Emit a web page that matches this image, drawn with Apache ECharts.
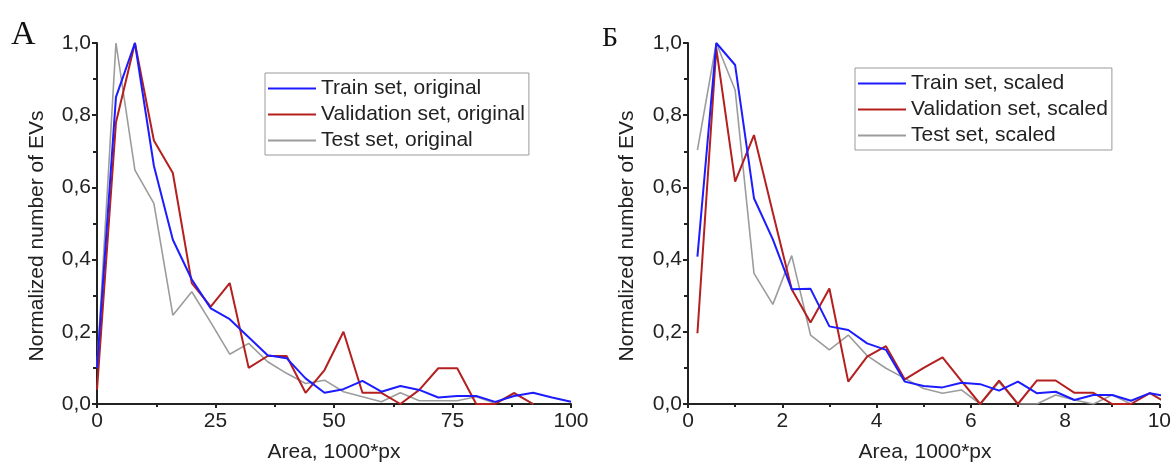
<!DOCTYPE html>
<html>
<head>
<meta charset="utf-8">
<script src="https://cdn.jsdelivr.net/npm/echarts@6/dist/echarts.min.js"></script>
<style>
  html, body { margin: 0; padding: 0; background: #ffffff; }
  #chart { width: 1174px; height: 465px; }
</style>
</head>
<body>
<div id="chart"></div>
<script>
// ---------- Data: panel А (original) ----------
const xOriginal = [0, 4, 8, 12, 16, 20, 24, 28, 32, 36, 40, 44, 48, 52, 56, 60, 64, 68, 72, 76, 80, 84, 88, 92, 96, 100];
const trainOriginal = [0.10, 0.85, 1.0, 0.66, 0.455, 0.345, 0.265, 0.235, 0.185, 0.135, 0.127, 0.071, 0.031, 0.041, 0.064, 0.034, 0.05, 0.039, 0.018, 0.022, 0.022, 0.006, 0.022, 0.031, 0.018, 0.006];
const validationOriginal = [0.04, 0.78, 1.0, 0.73, 0.64, 0.335, 0.27, 0.335, 0.10, 0.133, 0.133, 0.031, 0.094, 0.20, 0.031, 0.031, 0.0, 0.039, 0.099, 0.099, 0.0, 0.0, 0.03, 0.0];
const testOriginal = [0.10, 1.0, 0.648, 0.556, 0.246, 0.311, 0.226, 0.138, 0.168, 0.117, 0.085, 0.057, 0.066, 0.034, 0.02, 0.006, 0.031, 0.009, 0.009, 0.009, 0.02, 0.002, 0.031, 0.0];

// ---------- Data: panel Б (scaled) ----------
const xScaled = [0.2, 0.6, 1.0, 1.4, 1.8, 2.2, 2.6, 3.0, 3.4, 3.8, 4.2, 4.6, 5.0, 5.4, 5.8, 6.2, 6.6, 7.0, 7.4, 7.8, 8.2, 8.6, 9.0, 9.4, 9.8, 10.2];
const trainScaled = [0.408, 1.0, 0.939, 0.57, 0.456, 0.318, 0.319, 0.215, 0.205, 0.168, 0.15, 0.062, 0.05, 0.046, 0.059, 0.055, 0.037, 0.062, 0.03, 0.034, 0.011, 0.025, 0.025, 0.009, 0.03, 0.02];
const validationScaled = [0.196, 0.985, 0.616, 0.745, 0.53, 0.318, 0.226, 0.32, 0.062, 0.131, 0.16, 0.068, 0.10, 0.129, 0.064, 0.0, 0.065, 0.0, 0.065, 0.065, 0.031, 0.031, 0.0, 0.0, 0.03, 0.0];
const testScaled = [0.703, 1.0, 0.87, 0.362, 0.276, 0.411, 0.191, 0.15, 0.191, 0.134, 0.099, 0.071, 0.043, 0.03, 0.039, 0.0, 0.06, 0.0, 0.0, 0.025, 0.011, 0.0, 0.025, 0.0];

// ---------- Text ----------
const seriesNamesLeft = ['Train set, original', 'Validation set, original', 'Test set, original'];
const seriesNamesRight = ['Train set, scaled', 'Validation set, scaled', 'Test set, scaled'];
const yAxisTitle = 'Normalized number of EVs';
const xAxisTitle = 'Area, 1000*px';
const panelLabels = ['А', 'Б'];
const xTicksLeft = { min: 0, max: 100, interval: 25 };
const xTicksRight = { min: 0, max: 10, interval: 2 };
const yTicks = { min: 0, max: 1, interval: 0.2 };

const colors = ['#1c1cff', '#b3201f', '#9c9c9c'];
const FONT = "'Liberation Sans', Arial, sans-serif";
const FS = 21;
const AXIS_COLOR = '#222222';

function pairs(xs, ys) { return ys.map((y, i) => [xs[i], y]); }

function makeX(idx, t) {
  return {
    type: 'value', gridIndex: idx, min: t.min, max: t.max, interval: t.interval,
    axisLine: { show: true, onZero: false, lineStyle: { color: AXIS_COLOR, width: 2 } },
    axisTick: { show: true, length: 4, lineStyle: { color: AXIS_COLOR, width: 2 } },
    minorTick: { show: true, splitNumber: 2, length: 3, lineStyle: { color: AXIS_COLOR, width: 2 } },
    splitLine: { show: false },
    axisLabel: { color: '#222', fontFamily: FONT, fontSize: FS, margin: 7 }
  };
}
function makeY(idx) {
  return {
    type: 'value', gridIndex: idx, min: yTicks.min, max: yTicks.max, interval: yTicks.interval,
    axisLine: { show: true, onZero: false, lineStyle: { color: AXIS_COLOR, width: 2 } },
    axisTick: { show: true, length: 5, lineStyle: { color: AXIS_COLOR, width: 2 } },
    minorTick: { show: true, splitNumber: 2, length: 4, lineStyle: { color: AXIS_COLOR, width: 2 } },
    splitLine: { show: false },
    axisLabel: {
      color: '#222', fontFamily: FONT, fontSize: FS, margin: 6,
      formatter: v => v.toFixed(1).replace('.', ',')
    }
  };
}
function makeSeries(name, xs, ys, i, axisIdx) {
  return {
    name: name, type: 'line', xAxisIndex: axisIdx, yAxisIndex: axisIdx,
    data: pairs(xs, ys), symbol: 'none', clip: true,
    lineStyle: { color: colors[i], width: i === 2 ? 1.6 : 2 },
    itemStyle: { color: colors[i] },
    z: 3 - i
  };
}
function makeLegend(names, left, top) {
  return {
    data: names, orient: 'vertical', left: left, top: top,
    icon: 'rect', itemWidth: 48, itemHeight: 2, itemGap: 5,
    padding: [5, 4, 4, 3],
    borderColor: '#9a9a9a', borderWidth: 1, backgroundColor: '#ffffff',
    textStyle: { fontFamily: FONT, fontSize: FS, color: '#222', lineHeight: 21 },
    selectedMode: false
  };
}

const chart = echarts.init(document.getElementById('chart'), null, { renderer: 'canvas' });
chart.setOption({
  backgroundColor: '#ffffff',
  animation: false,
  grid: [
    { left: 97, right: 603, top: 43, bottom: 61, containLabel: false },
    { left: 688, right: 12, top: 43, bottom: 61, containLabel: false }
  ],
  xAxis: [makeX(0, xTicksLeft), makeX(1, xTicksRight)],
  yAxis: [makeY(0), makeY(1)],
  legend: [makeLegend(seriesNamesLeft, 265, 73), makeLegend(seriesNamesRight, 855, 68)],
  series: [
    makeSeries(seriesNamesLeft[0], xOriginal, trainOriginal, 0, 0),
    makeSeries(seriesNamesLeft[1], xOriginal, validationOriginal, 1, 0),
    makeSeries(seriesNamesLeft[2], xOriginal, testOriginal, 2, 0),
    makeSeries(seriesNamesRight[0], xScaled, trainScaled, 0, 1),
    makeSeries(seriesNamesRight[1], xScaled, validationScaled, 1, 1),
    makeSeries(seriesNamesRight[2], xScaled, testScaled, 2, 1)
  ],
  graphic: [
    { type: 'text', left: 11, top: 18, style: { text: panelLabels[0], font: "34px 'Liberation Serif', serif", fill: '#111' } },
    { type: 'text', left: 602, top: 25, style: { text: panelLabels[1], font: "28px 'Liberation Serif', serif", fill: '#111' } },
    { type: 'text', x: 37, y: 236, rotation: Math.PI / 2, style: { text: yAxisTitle, font: FS + "px 'Liberation Sans', Arial, sans-serif", fill: '#222', align: 'center', verticalAlign: 'middle' } },
    { type: 'text', x: 627, y: 236, rotation: Math.PI / 2, style: { text: yAxisTitle, font: FS + "px 'Liberation Sans', Arial, sans-serif", fill: '#222', align: 'center', verticalAlign: 'middle' } },
    { type: 'text', x: 334, y: 452, style: { text: xAxisTitle, font: FS + "px 'Liberation Sans', Arial, sans-serif", fill: '#222', align: 'center', verticalAlign: 'middle' } },
    { type: 'text', x: 925, y: 452, style: { text: xAxisTitle, font: FS + "px 'Liberation Sans', Arial, sans-serif", fill: '#222', align: 'center', verticalAlign: 'middle' } }
  ]
});
</script>
</body>
</html>
